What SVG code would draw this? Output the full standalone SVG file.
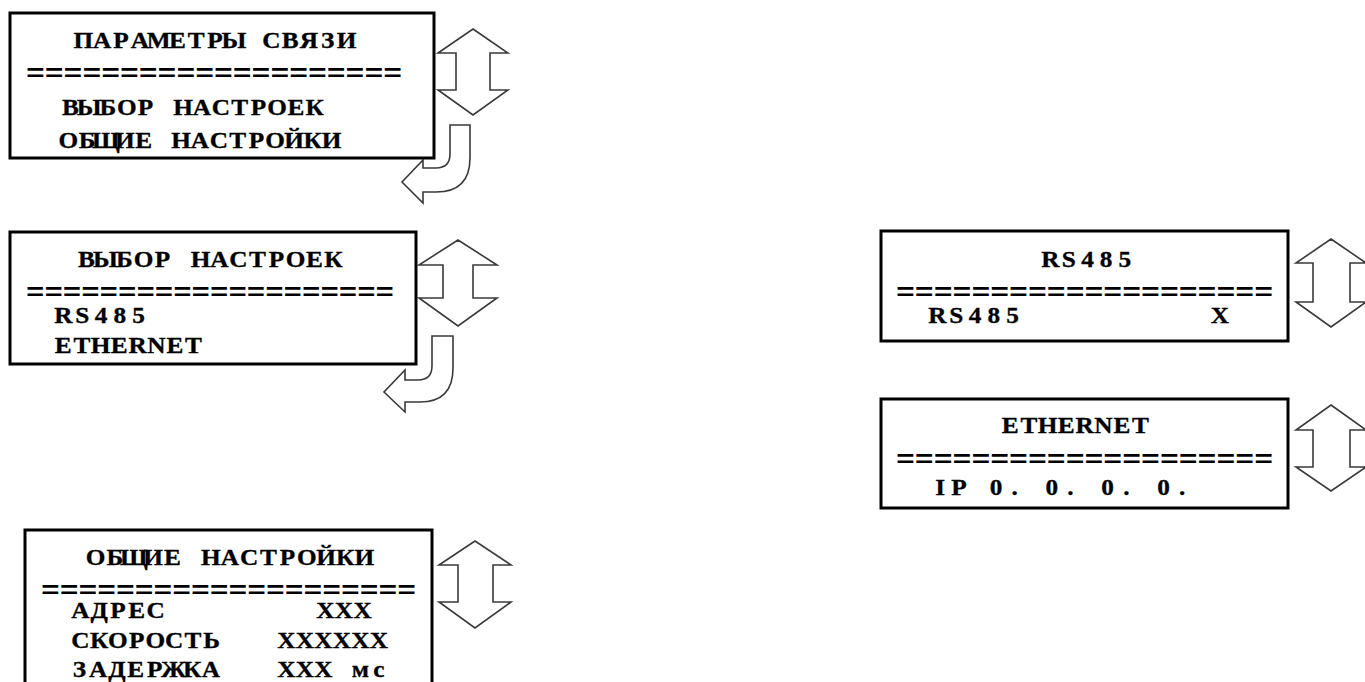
<svg xmlns="http://www.w3.org/2000/svg" width="1365" height="682" viewBox="0 0 1365 682">
<style>
.box{fill:#fff;stroke:#000;stroke-width:3}
.t{font-family:"Liberation Serif","Times New Roman",serif;font-weight:bold;font-size:23px;fill:#000;stroke:#000;stroke-width:0.3;text-anchor:middle;transform:scale(1.1,1);transform-origin:0 0}
.eq{font-family:"Liberation Mono","Courier New",monospace;font-weight:bold;font-size:24px;fill:#000}
.arr{fill:#fff;stroke:#3a3a3a;stroke-width:1.6;stroke-linejoin:miter}
</style>
<rect width="1365" height="682" fill="#fff"/>
<g id="connectors">
<path class="arr" d="M473,29 L508,53 L490,53 L490,90 L508,90 L473,115 L438,90 L456,90 L456,53 L438,53 Z"/>
<path class="arr" d="M450,125 L470,125 L470,158 Q470,192 436,192 L423,192 L423,203 L402,182 L423,160 L423,168 L436,168 Q450,168 450,154 Z"/>
<path class="arr" d="M458,240 L497,265 L473,265 L473,298 L497,298 L458,326 L419,298 L443,298 L443,265 L419,265 Z"/>
<path class="arr" d="M432,336 L453,336 L453,368 Q453,402 420,402 L405,402 L405,412 L384,392 L405,370 L405,380 L418,380 Q432,380 432,366 Z"/>
<path class="arr" d="M475,541 L511,565 L493,565 L493,602 L511,602 L475,628 L439,602 L458,602 L458,565 L439,565 Z"/>
<path class="arr" d="M1331,239 L1366,263 L1350,263 L1350,302 L1366,302 L1331,327 L1296,302 L1313,302 L1313,263 L1296,263 Z"/>
<path class="arr" d="M1331,405 L1366,430 L1350,430 L1350,467 L1366,467 L1331,491 L1296,467 L1313,467 L1313,430 L1296,430 Z"/>
</g>
<g id="node-params">
<rect class="box" x="10" y="13" width="424" height="145"/>
<text class="t" x="75.82 92.91 110 127.09 144.18 161.27 178.36 195.45 212.55 229.64 246.73 263.82 280.91 298 315.09" y="48">ПАРАМЕТРЫ СВЯЗИ</text>
<text class="eq" x="26" y="81" textLength="376" lengthAdjust="spacingAndGlyphs">====================</text>
<text class="t" x="64 81.09 98.18 115.27 132.36 149.45 166.55 183.64 200.73 217.82 234.91 252 269.09 286.18" y="115">ВЫБОР НАСТРОЕК</text>
<text class="t" x="62.18 79.27 96.36 113.45 130.55 147.64 164.73 181.82 198.91 216 233.09 250.18 267.27 284.36 301.45" y="148">ОБЩИЕ НАСТРОЙКИ</text>
</g>
<g id="node-select">
<rect class="box" x="10" y="232" width="406" height="132"/>
<text class="t" x="78.64 95.91 113.18 130.45 147.73 165 182.27 199.55 216.82 234.09 251.36 268.64 285.91 303.18" y="267">ВЫБОР НАСТРОЕК</text>
<text class="eq" x="26" y="300" textLength="368" lengthAdjust="spacingAndGlyphs">====================</text>
<text class="t" x="57.64 74.73 91.82 108.91 126" y="323">RS485</text>
<text class="t" x="57.55 74.45 91.36 108.27 125.18 142.09 159 175.91" y="353">ETHERNET</text>
</g>
<g id="node-general">
<rect class="box" x="25" y="530" width="407" height="170"/>
<text class="t" x="86.91 104.36 121.82 139.27 156.73 174.18 191.64 209.09 226.55 244 261.45 278.91 296.36 313.82 331.27" y="565">ОБЩИЕ НАСТРОЙКИ</text>
<text class="eq" x="41" y="598" textLength="375" lengthAdjust="spacingAndGlyphs">====================</text>
<text class="t" x="73.09 90.18 107.27 124.36 141.45" y="618">АДРЕС</text>
<text class="t" x="295.73 312.73 329.73" y="618">XXX</text>
<text class="t" x="73.09 90.14 107.18 124.23 141.27 158.32 175.36 192.41" y="648">СКОРОСТЬ</text>
<text class="t" x="260.27 277.09 293.91 310.73 327.55 344.36" y="648">XXXXXX</text>
<text class="t" x="72.18 89.27 106.36 123.45 140.55 157.64 174.73 191.82" y="677">ЗАДЕРЖКА</text>
<text class="t" x="260.27 277.09 293.91 310.73 327.55 344.36" y="677">XXX мс</text>
</g>
<g id="node-rs485">
<rect class="box" x="881" y="231" width="407" height="110"/>
<text class="t" x="954.82 971.73 988.64 1005.55 1022.45" y="267">RS485</text>
<text class="eq" x="896" y="300" textLength="377" lengthAdjust="spacingAndGlyphs">====================</text>
<text class="t" x="852.18 869.27 886.36 903.45 920.55" y="323">RS485</text>
<text class="t" x="1109.09" y="323">X</text>
</g>
<g id="node-ethernet">
<rect class="box" x="881" y="399" width="407" height="109"/>
<text class="t" x="918.45 935.36 952.27 969.18 986.09 1003 1019.91 1036.82" y="433">ETHERNET</text>
<text class="eq" x="896" y="467" textLength="377" lengthAdjust="spacingAndGlyphs">====================</text>
<text class="t" x="854.82 871.73 888.64 905.55 922.45 939.36 956.27 973.18 990.09 1007 1023.91 1040.82 1057.73 1074.64" y="495">IP 0. 0. 0. 0.</text>
</g>
</svg>
